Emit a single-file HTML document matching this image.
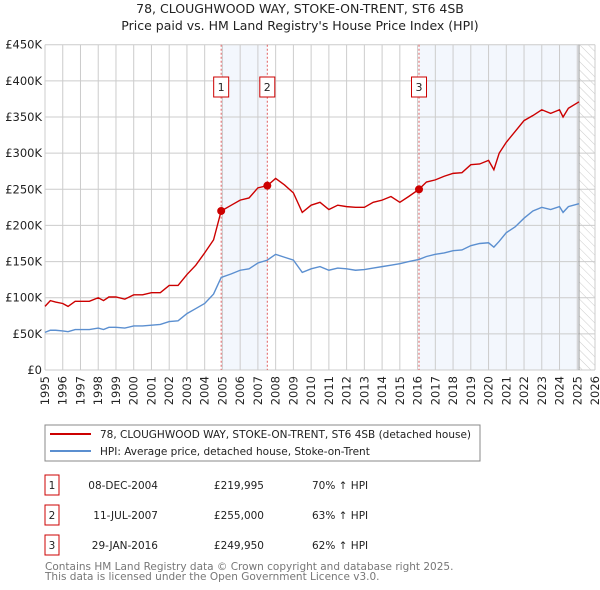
<!DOCTYPE html>
<html><head><meta charset="utf-8"><style>
body{margin:0;background:#fff;}
svg{display:block;font-family:"DejaVu Sans","Liberation Sans",sans-serif;}
</style></head><body>
<svg id="c" width="600" height="590" viewBox="0 0 600 590">
<defs><pattern id="hatch" width="6" height="6" patternUnits="userSpaceOnUse" patternTransform="rotate(-45)"><line x1="0" y1="0" x2="0" y2="6" stroke="#ccc" stroke-width="1"/></pattern></defs>
<text x="300" y="13" text-anchor="middle" font-size="12.5" fill="#222">78, CLOUGHWOOD WAY, STOKE-ON-TRENT, ST6 4SB</text>
<text x="300" y="30" text-anchor="middle" font-size="12.5" fill="#222">Price paid vs. HM Land Registry's House Price Index (HPI)</text>
<g id="plot"></g>
<rect x="45" y="425" width="435" height="36" fill="#fff" stroke="#888"/>
<line x1="50" y1="434" x2="91" y2="434" stroke="#cc0000" stroke-width="2"/>
<text x="100" y="438" font-size="10.5" fill="#222">78, CLOUGHWOOD WAY, STOKE-ON-TRENT, ST6 4SB (detached house)</text>
<line x1="50" y1="451" x2="91" y2="451" stroke="#5b8fd0" stroke-width="2"/>
<text x="100" y="455" font-size="10.5" fill="#222">HPI: Average price, detached house, Stoke-on-Trent</text>
<g id="table" font-size="10.5" fill="#222"></g>
<text x="45" y="570" font-size="10.5" fill="#777">Contains HM Land Registry data © Crown copyright and database right 2025.</text>
<text x="45" y="580" font-size="10.5" fill="#777">This data is licensed under the Open Government Licence v3.0.</text>
</svg>
<script>
const dates=[1995,1995.3,1995.6,1996,1996.3,1996.7,1997,1997.5,1998,1998.3,1998.6,1999,1999.5,2000,2000.5,2001,2001.5,2002,2002.5,2003,2003.5,2004,2004.5,2004.93,2005.5,2006,2006.5,2007,2007.53,2008,2008.5,2009,2009.5,2010,2010.5,2011,2011.5,2012,2012.5,2013,2013.5,2014,2014.5,2015,2015.5,2016.08,2016.5,2017,2017.5,2018,2018.5,2019,2019.5,2020,2020.3,2020.6,2021,2021.5,2022,2022.5,2023,2023.5,2024,2024.2,2024.5,2025.1];
const priceK=[88,96,94,92,88,95,95,95,100,96,101,101,98,104,104,107,107,117,117,132,145,162,180,220,228,235,238,252,255,265,256,245,218,228,232,222,228,226,225,225,232,235,240,232,240,250,260,263,268,272,273,284,285,290,277,300,315,330,345,352,360,355,360,350,362,371];
const hpiK=[52,55,55,54,53,56,56,56,58,56,59,59,58,61,61,62,63,67,68,78,85,92,105,128,133,138,140,148,152,160,156,152,135,140,143,138,141,140,138,139,141,143,145,147,150,153,157,160,162,165,166,172,175,176,170,178,190,198,210,220,225,222,226,218,226,230];
const yTicks=[0,50,100,150,200,250,300,350,400,450];
const yTickLabels=["£0","£50K","£100K","£150K","£200K","£250K","£300K","£350K","£400K","£450K"];
const years=[1995,1996,1997,1998,1999,2000,2001,2002,2003,2004,2005,2006,2007,2008,2009,2010,2011,2012,2013,2014,2015,2016,2017,2018,2019,2020,2021,2022,2023,2024,2025,2026];
const saleDates=[2004.93,2007.53,2016.08];
const salePrices=[219.995,255,249.95];
const saleLabels=["1","2","3"];
const saleDateText=["08-DEC-2004","11-JUL-2007","29-JAN-2016"];
const salePriceText=["£219,995","£255,000","£249,950"];
const saleHpiText=["70% ↑ HPI","63% ↑ HPI","62% ↑ HPI"];
const dataEnd=2025.1;
const X0=45,X1=595,Y0=370,Y1=44.7;
const x=v=>X0+(v-1995)/(2026-1995)*(X1-X0);
const y=v=>Y0-v/450*(Y0-Y1);
const NS="http://www.w3.org/2000/svg";
const g=document.getElementById('plot');
function mk(t,a,p){const e=document.createElementNS(NS,t);for(const k in a)e.setAttribute(k,a[k]);(p||g).appendChild(e);return e;}
let e;
e=mk('rect',{x:x(saleDates[0]),y:Y1,width:x(saleDates[1])-x(saleDates[0]),height:Y0-Y1,fill:'#eef3fc',opacity:0.7});


e=mk('rect',{x:x(saleDates[2]),y:Y1,width:x(dataEnd)-x(saleDates[2]),height:Y0-Y1,fill:'#eef3fc',opacity:0.7});


e=mk('rect',{x:x(dataEnd),y:Y1,width:X1-x(dataEnd),height:Y0-Y1,fill:'url(#hatch)'});


years.forEach(yr=>{e=mk('line',{x1:x(yr),x2:x(yr),y1:Y1,y2:Y0,stroke:'#ccc','stroke-width':1});


e=mk('text',{x:0,y:0,'font-size':11.5,fill:'#222','text-anchor':'end',transform:`translate(${x(yr)+4},${Y0+6}) rotate(-90)`});e.textContent=yr;

});
yTicks.forEach((t,i)=>{e=mk('line',{x1:X0,x2:X1,y1:y(t),y2:y(t),stroke:'#ccc','stroke-width':1});


e=mk('text',{x:X0-3,y:y(t)+4,'font-size':11.5,fill:'#222','text-anchor':'end'});e.textContent=yTickLabels[i];

});
e=mk('line',{x1:x(dataEnd),x2:x(dataEnd),y1:Y1,y2:Y0,stroke:'#999','stroke-width':1});


saleDates.forEach((d,i)=>{e=mk('line',{x1:x(d),x2:x(d),y1:Y1,y2:Y0,stroke:'#e06060','stroke-width':1,'stroke-dasharray':'2,2'});


e=mk('rect',{x:x(d)-7.5,y:77,width:15,height:20,fill:'#fff',stroke:'#c00'});


e=mk('text',{x:x(d),y:91,'font-size':11,fill:'#222','text-anchor':'middle'});e.textContent=saleLabels[i];

});
function line(vals,col,name){e=mk('polyline',{points:dates.map((d,i)=>x(d)+','+y(vals[i])).join(' '),fill:'none',stroke:col,'stroke-width':1.4});

}
line(hpiK,'#5b8fd0','hpi-line');
line(priceK,'#cc0000','price-line');
saleDates.forEach((d,i)=>{e=mk('circle',{cx:x(d),cy:y(salePrices[i]),r:4,fill:'#cc0000'});

});
const tb=document.getElementById('table');
saleDates.forEach((d,i)=>{const ty=475+i*30;
e=mk('rect',{x:45,y:ty,width:14,height:20,fill:'#fff',stroke:'#c00'},tb);


e=mk('text',{x:52,y:ty+14,'text-anchor':'middle'},tb);e.textContent=saleLabels[i];


e=mk('text',{x:158,y:ty+14,'text-anchor':'end'},tb);e.textContent=saleDateText[i];


e=mk('text',{x:264,y:ty+14,'text-anchor':'end'},tb);e.textContent=salePriceText[i];


e=mk('text',{x:312,y:ty+14},tb);e.textContent=saleHpiText[i];

});
</script>
</body></html>
